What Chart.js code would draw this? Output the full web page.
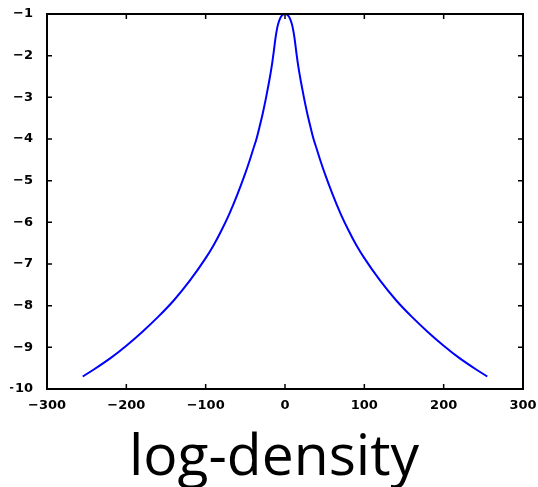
<!DOCTYPE html>
<html>
<head>
<meta charset="utf-8">
<script src="https://cdn.jsdelivr.net/npm/chart.js@4/dist/chart.umd.min.js"></script>
<style>
  html, body { margin: 0; padding: 0; background: #ffffff; }
  #wrap { width: 538px; height: 487px; }
</style>
</head>
<body>
<div id="wrap"><canvas id="c" width="538" height="487"></canvas></div>
<script>
const titleText = "log-density";
const xValues = [-255, -240, -220, -200, -180, -160, -140, -120, -100, -90, -80, -70, -60, -50, -45, -40, -36, -32, -28, -24, -20, -18, -16, -14, -12, -10, -8, -6, -4, -2, 0,
                 2, 4, 6, 8, 10, 12, 14, 16, 18, 20, 24, 28, 32, 36, 40, 45, 50, 60, 70, 80, 90, 100, 120, 140, 160, 180, 200, 220, 240, 255];
const yValues = [-9.70, -9.52, -9.26, -8.96, -8.63, -8.27, -7.87, -7.40, -6.86, -6.55, -6.19, -5.79, -5.33, -4.82, -4.54, -4.24, -4.00, -3.70, -3.38, -3.02, -2.62, -2.40, -2.16, -1.88, -1.58, -1.35, -1.20, -1.10, -1.04, -1.01, -1.00,
                 -1.01, -1.04, -1.10, -1.20, -1.35, -1.58, -1.88, -2.16, -2.40, -2.62, -3.02, -3.38, -3.70, -4.00, -4.24, -4.54, -4.82, -5.33, -5.79, -6.19, -6.55, -6.86, -7.40, -7.87, -8.27, -8.63, -8.96, -9.26, -9.52, -9.70];
const xTicks = [-300, -200, -100, 0, 100, 200, 300];
const yTicks = [-10, -9, -8, -7, -6, -5, -4, -3, -2, -1];

const points = xValues.map((x, i) => ({ x: x, y: yValues[i] }));
const fmt = v => String(v).replace('-', '\u2212');

const framePlugin = {
  id: 'frame',
  afterDatasetsDraw(chart) {
    const { ctx, chartArea: a, scales } = chart;
    ctx.save();
    ctx.strokeStyle = '#000';
    ctx.lineWidth = 1.5;
    const tl = 5;
    ctx.beginPath();
    xTicks.forEach(v => {
      const px = scales.x.getPixelForValue(v);
      ctx.moveTo(px, a.bottom); ctx.lineTo(px, a.bottom - tl);
      ctx.moveTo(px, a.top); ctx.lineTo(px, a.top + tl);
    });
    yTicks.forEach(v => {
      const py = scales.y.getPixelForValue(v);
      ctx.moveTo(a.left, py); ctx.lineTo(a.left + tl, py);
      ctx.moveTo(a.right, py); ctx.lineTo(a.right - tl, py);
    });
    ctx.stroke();
    ctx.lineWidth = 2;
    ctx.strokeRect(a.left, a.top, a.right - a.left, a.bottom - a.top);
    ctx.restore();
  }
};

new Chart(document.getElementById('c'), {
  type: 'line',
  data: {
    datasets: [{
      data: points,
      borderColor: '#0000ff',
      borderWidth: 2,
      pointRadius: 0,
      fill: false,
      cubicInterpolationMode: 'monotone'
    }]
  },
  options: {
    responsive: false,
    animation: false,
    devicePixelRatio: 1,
    layout: { padding: { left: 10, right: 0, top: 14, bottom: 0 } },
    plugins: {
      legend: { display: false },
      tooltip: { enabled: false },
      title: {
        display: true,
        position: 'bottom',
        text: titleText,
        color: '#000',
        font: { family: 'Open Sans', size: 57, weight: 'normal', lineHeight: 1.0 },
        padding: { top: 0, bottom: 0 }
      }
    },
    scales: {
      x: {
        type: 'linear',
        min: -300, max: 300,
        afterBuildTicks: s => { s.ticks = xTicks.map(v => ({ value: v })); },
        afterFit: s => { s.height = 41; },
        grid: { display: false },
        border: { display: false },
        ticks: {
          color: '#000',
          padding: 1,
          maxRotation: 0,
          autoSkip: false,
          font: { family: 'DejaVu Sans', size: 13, weight: 'bold' },
          callback: v => fmt(v)
        }
      },
      y: {
        type: 'linear',
        min: -10, max: -1,
        afterBuildTicks: s => { s.ticks = yTicks.map(v => ({ value: v })); },
        afterFit: s => { s.width = 37; },
        grid: { display: false },
        border: { display: false },
        ticks: {
          color: '#000',
          padding: 6,
          autoSkip: false,
          font: { family: 'DejaVu Sans', size: 13, weight: 'bold' },
          callback: v => fmt(v)
        }
      },
      yRight: {
        type: 'linear',
        position: 'right',
        min: -10, max: -1,
        afterFit: s => { s.width = 15; },
        grid: { display: false },
        border: { display: false },
        ticks: { display: false }
      }
    }
  },
  plugins: [framePlugin]
});
</script>
</body>
</html>
